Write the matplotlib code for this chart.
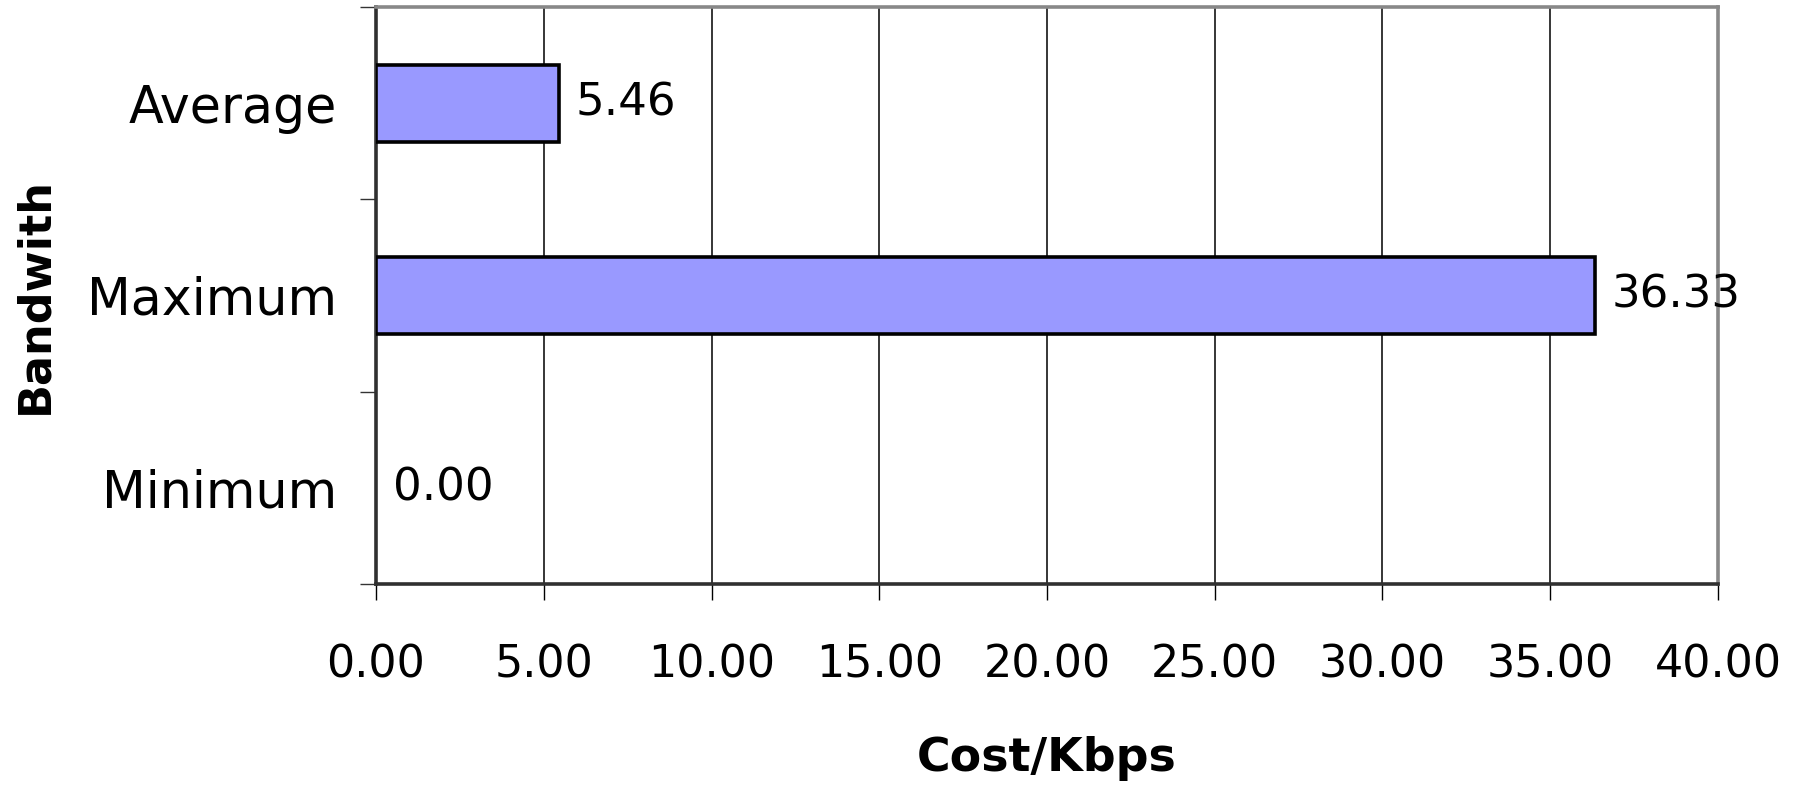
import matplotlib
matplotlib.use("Agg")
import matplotlib.pyplot as plt
import numpy as np

# chart data (bottom to top, as drawn on the y axis)
categories = ["Minimum", "Maximum", "Average"]
cost_per_kbps = [0.00, 36.33, 5.46]
x_ticks = [0, 5, 10, 15, 20, 25, 30, 35, 40]

BAR_FILL = "#9999FF"

fig = plt.figure(figsize=(18.01, 7.91), dpi=100)
ax = fig.add_axes([0.2088, 0.2617, 0.9539 - 0.2088, 0.9912 - 0.2617])

y = np.arange(len(categories))
bars = ax.barh(y, cost_per_kbps, height=0.4, color=BAR_FILL,
               edgecolor="black", linewidth=2.6, zorder=3)

# value labels to the right of each bar
for rect, val in zip(bars, cost_per_kbps):
    if val == 0:
        rect.set_linewidth(0)  # no visible sliver for an empty bar
    ax.annotate(f"{val:.2f}", xy=(rect.get_width(), rect.get_y() + rect.get_height() / 2),
                xytext=(12, 0), textcoords="offset points",
                ha="left", va="center", fontsize=32.5, color="black",
                annotation_clip=False, zorder=5)

ax.set_xlim(0, 40)
ax.set_ylim(-0.5, len(categories) - 0.5)

# x axis
ax.set_xticks(x_ticks)
ax.set_xticklabels([f"{t:.2f}" for t in x_ticks], fontsize=32)
ax.tick_params(axis="x", direction="out", length=11.5, width=1.0,
               color="black", pad=31)
ax.grid(axis="x", color="black", linewidth=1.1, zorder=0)
ax.set_axisbelow(True)

# y axis: ticks on category boundaries, labels on category centres
ax.set_yticks(np.arange(len(categories) + 1) - 0.5)
ax.set_yticklabels([])
ax.tick_params(axis="y", which="major", direction="out", length=11.5,
               width=1.0, color="#333333")
ax.set_yticks(y, minor=True)
ax.set_yticklabels(categories, minor=True, fontsize=36.5)
ax.tick_params(axis="y", which="minor", length=0, pad=28)

ax.set_xlabel("Cost/Kbps", fontsize=33, fontweight="bold", labelpad=36)
ax.set_ylabel("Bandwith", fontsize=32, fontweight="bold", labelpad=22)

for side in ["left", "bottom"]:
    ax.spines[side].set_color("#303030")
    ax.spines[side].set_linewidth(2.6)
for side in ["top", "right"]:
    ax.spines[side].set_color("#888888")
    ax.spines[side].set_linewidth(2.6)

fig.savefig("out.png", dpi=100)
